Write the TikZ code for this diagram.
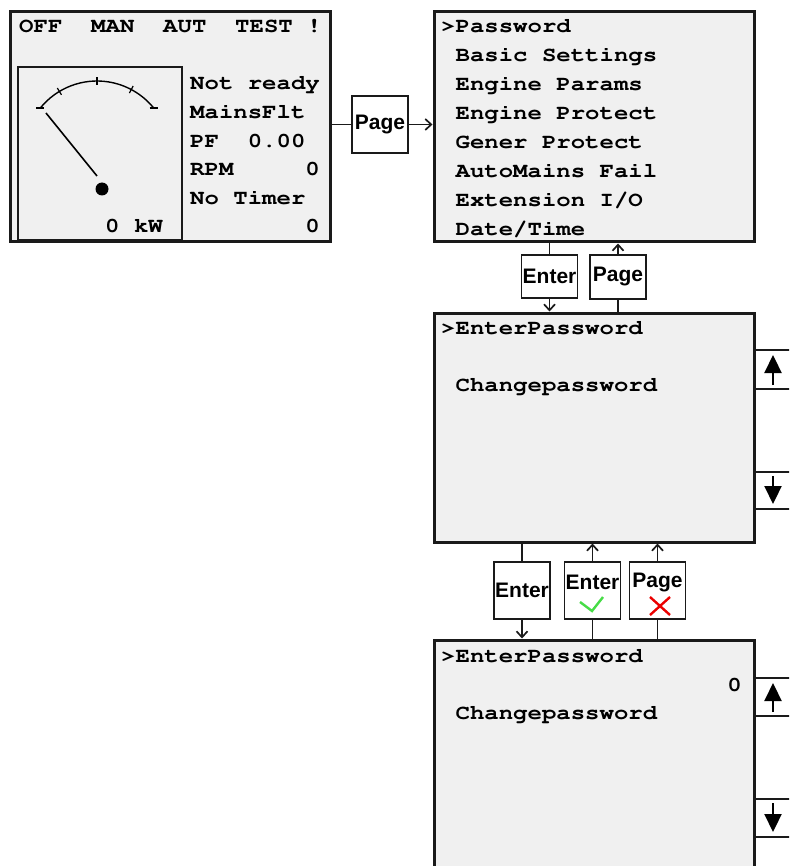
\documentclass[tikz,border=0pt]{standalone}
\usepackage[T1,TU]{fontenc}
\usepackage{fontspec}
\newfontfamily\keyfont{Liberation Sans}
\usetikzlibrary{arrows.meta}
\definecolor{lcdbg}{RGB}{240,240,240}
\definecolor{lcdline}{RGB}{26,26,26}
\definecolor{okG}{RGB}{70,220,70}
\definecolor{noR}{RGB}{235,0,0}
\newcommand\lcdfont{\fontencoding{T1}\fontfamily{pcr}\bfseries\fontsize{24}{28}\selectfont}

\begin{document}
\begin{tikzpicture}[x=1pt,y=-1pt,
  panel/.style={draw=lcdline,line width=3pt,fill=lcdbg,inner sep=0pt,minimum width=320pt},
  btn/.style={draw=lcdline,line width=1.7pt,fill=white,minimum width=56pt,inner sep=0pt,
     font=\keyfont\bfseries\fontsize{21}{24}\selectfont},
  lcd/.style={anchor=base west,inner sep=0pt,font=\lcdfont,yscale=0.87},
  link/.style={draw=lcdline,line width=1.7pt},
  go/.style={link,-{Straight Barb[length=6pt,width=11pt]}},
  keyline/.style={draw=lcdline,line width=1.7pt},
  keyarr/.style={draw=black,line width=2.2pt,-{Triangle[length=18pt,width=17pt]}}]
\useasboundingbox (0,0) rectangle (789,866);
\clip (0,0) rectangle (789,866);
\def\upkey#1#2#3{\draw[keyline] (#1.east |- 0,#2) -- (805,#2) (#1.east |- 0,#3) -- (805,#3);
  \draw[keyarr] (773,#3-4) -- (773,#2+5);}
\def\downkey#1#2#3{\draw[keyline] (#1.east |- 0,#2) -- (805,#2) (#1.east |- 0,#3) -- (805,#3);
  \draw[keyarr] (773,#2+4) -- (773,#3-5);}
% screens
\node[panel,minimum height=230pt] (main) at (170,127) {};
\node[panel,minimum height=230pt] (menu) at (594,127) {};
\node[panel,minimum height=229pt] (pwd1) at (594,427.5) {};
\node[panel,minimum height=250pt] (pwd2) at (594,765) {};
% main screen
\node[lcd] (mode) at (19,33) {OFF~~MAN~~AUT~~TEST~!};
\node[draw=lcdline,line width=1.5pt,minimum width=164pt,minimum height=173pt,inner sep=0pt] (gauge) at (100,153.5) {};
\coordinate (gc) at (97,154);
\draw[line width=1.4pt] ([shift={(141:73pt)}]gc) arc[start angle=141,end angle=39,radius=73pt];
\foreach \a in {121,90,62} \draw[line width=1.2pt] ([shift={(\a:69pt)}]gc) -- ([shift={(\a:77pt)}]gc);
\foreach \a in {141,39} \draw[line width=1.2pt] ([shift={(\a:73pt)}]gc) ++(-4,0) -- ++(8,0);
\draw[line width=1.6pt] (46,113) -- (97,176);
\fill (102,189) circle[radius=6.5pt];
\node[lcd] (kw) at (105,233) {0~kW};
\foreach \t [count=\i from 0] in {Not~ready,MainsFlt,PF~~0.00,RPM~~~~~0,No~Timer,~~~~~~~~0}
  \node[lcd] (st\i) at (190,{90+28.6*\i}) {\t};
% menu
\foreach \t [count=\i from 0] in {>Password,~Basic~Settings,~Engine~Params,~Engine~Protect,
    ~Gener~Protect,~AutoMains~Fail,~Extension~I/O,~Date/Time}
  \node[lcd] (m\i) at (441,{33+28.86*\i}) {\t};
% password screens
\node[lcd] (p1a) at (441,334) {>EnterPassword};
\node[lcd] (p1b) at (441,391) {~Changepassword};
\node[lcd] (p2a) at (441,662) {>EnterPassword};
\node[lcd,anchor=base east] (p2v) at (742,691) {0};
\node[lcd] (p2b) at (441,719) {~Changepassword};
\upkey{pwd1}{350}{389}
\downkey{pwd1}{472}{509}
\upkey{pwd2}{678}{716}
\downkey{pwd2}{799}{837}
% keys
\node[btn,minimum height=57pt] (pg1) at (380,124.5) {Page};
\node[btn,minimum height=43pt] (ent1) at (549.5,276.5) {Enter};
\node[btn,minimum height=44pt] (pg2) at (618,277) {Page};
\node[btn,minimum height=57pt] (ent2) at (522,590.5) {Enter};
\node[btn,minimum height=57pt] (entok) at (592.5,590.5) {};
\node[btn,minimum height=57pt] (pgx) at (657.5,590.5) {};
\node[btn,draw=none,fill=none] (entokt) at ([yshift=8.5pt]entok.center) {Enter};
\node[btn,draw=none,fill=none] (pgxt) at ([yshift=8.5pt]pgx.center) {Page};
\draw[okG,line width=2.4pt] (entok.center) ++(-12.5,11.5) -- ++(12,9) -- ++(11,-14);
\draw[noR,line width=2.4pt] (pgx.center) ++(-7.5,6.5) -- ++(20,18) (pgx.center) ++(12.5,6.5) -- ++(-20,18);
% connectors
\draw[link] (main.east |- pg1.west) -- (pg1.west);
\draw[go] (pg1.east) -- (menu.west |- pg1.east);
\draw[link] (menu.south -| ent1.north) -- (ent1.north);
\draw[go] (ent1.south) -- (ent1.south |- pwd1.north);
\draw[link] (pwd1.north -| pg2.south) -- (pg2.south);
\draw[go] (pg2.north) -- (pg2.north |- menu.south);
\draw[link] (pwd1.south -| ent2.north) -- (ent2.north);
\draw[go] (ent2.south) -- (ent2.south |- pwd2.north);
\draw[link] (pwd2.north -| entok.south) -- (entok.south);
\draw[go] (entok.north) -- (entok.north |- pwd1.south);
\draw[link] (pwd2.north -| pgx.south) -- (pgx.south);
\draw[go] (pgx.north) -- (pgx.north |- pwd1.south);
\end{tikzpicture}
\end{document}
